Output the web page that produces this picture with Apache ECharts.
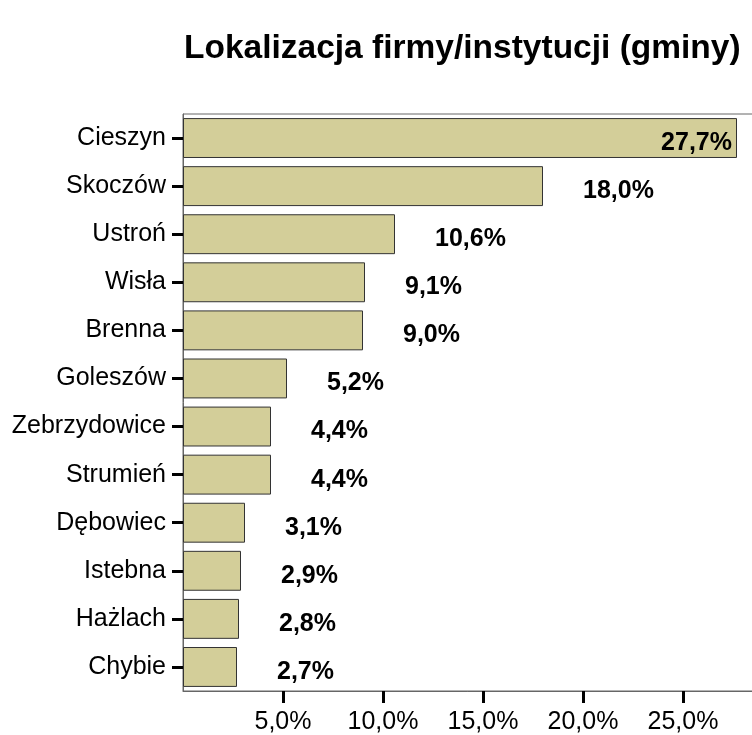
<!DOCTYPE html>
<html>
<head>
<meta charset="utf-8">
<script src="https://cdn.jsdelivr.net/npm/echarts@6/dist/echarts.min.js"></script>
<style>
	html, body { margin: 0; padding: 0; background: #fff; }
	#chart { width: 752px; height: 735px; }
</style>
</head>
<body>
<div id="chart"></div>
<script>
// gminy, od najwiekszego udzialu
const categories = ['Cieszyn', 'Skoczów', 'Ustroń', 'Wisła', 'Brenna', 'Goleszów',
	'Zebrzydowice', 'Strumień', 'Dębowiec', 'Istebna', 'Hażlach', 'Chybie'];
const values = [27.7, 18.0, 10.6, 9.1, 9.0, 5.2, 4.4, 4.4, 3.1, 2.9, 2.8, 2.7];
const tickValues = [5, 10, 15, 20, 25];

const fmt = (v, d) => v.toFixed(d).replace('.', ',') + '%';

const chart = echarts.init(document.getElementById('chart'), null, { renderer: 'canvas' });

const option = {
	animation: false,
	title: {
		text: 'Lokalizacja firmy/instytucji (gminy)',
		left: 179,
		top: 27,
		textStyle: {
			fontFamily: 'Liberation Sans',
			fontSize: 33.5,
			fontWeight: 'bold',
			color: '#000'
		}
	},
	grid: {
		left: 183,
		top: 114,
		right: -10,
		bottom: 44,
		outerBoundsMode: 'none',
		show: true,
		borderColor: '#666',
		borderWidth: 1
	},
	xAxis: {
		type: 'value',
		min: 0,
		max: 28.95,
		interval: 5,
		axisLine: { show: true, lineStyle: { color: '#666', width: 1 } },
		axisTick: {
			show: true,
			length: 12,
			customValues: tickValues,
			lineStyle: { color: '#000', width: 3 }
		},
		splitLine: { show: false },
		axisLabel: {
			customValues: tickValues,
			margin: 19,
			fontFamily: 'Liberation Sans',
			fontSize: 25,
			color: '#000',
			formatter: (v) => fmt(v, 1)
		}
	},
	yAxis: {
		type: 'category',
		data: categories,
		inverse: true,
		axisLine: { show: true, lineStyle: { color: '#666', width: 1 } },
		axisTick: {
			show: true,
			alignWithLabel: true,
			length: 11,
			lineStyle: { color: '#000', width: 3 }
		},
		axisLabel: {
			margin: 17,
			fontFamily: 'Liberation Sans',
			fontSize: 25,
			color: '#000'
		}
	},
	series: [
		{
			type: 'bar',
			data: values.map((v, i) => ({
				value: v,
				label: i === 0
					? { position: 'insideRight', distance: 5 }
					: { position: 'right', distance: 40 }
			})),
			barCategoryGap: '17%',
			itemStyle: {
				color: '#d3ce99',
				borderColor: '#333',
				borderWidth: 1
			},
			label: {
				show: true,
				offset: [0, 5],
				fontFamily: 'Liberation Sans',
				fontSize: 25,
				fontWeight: 'bold',
				color: '#000',
				formatter: (p) => fmt(p.value, 1)
			}
		}
	]
};

chart.setOption(option);
</script>
</body>
</html>
